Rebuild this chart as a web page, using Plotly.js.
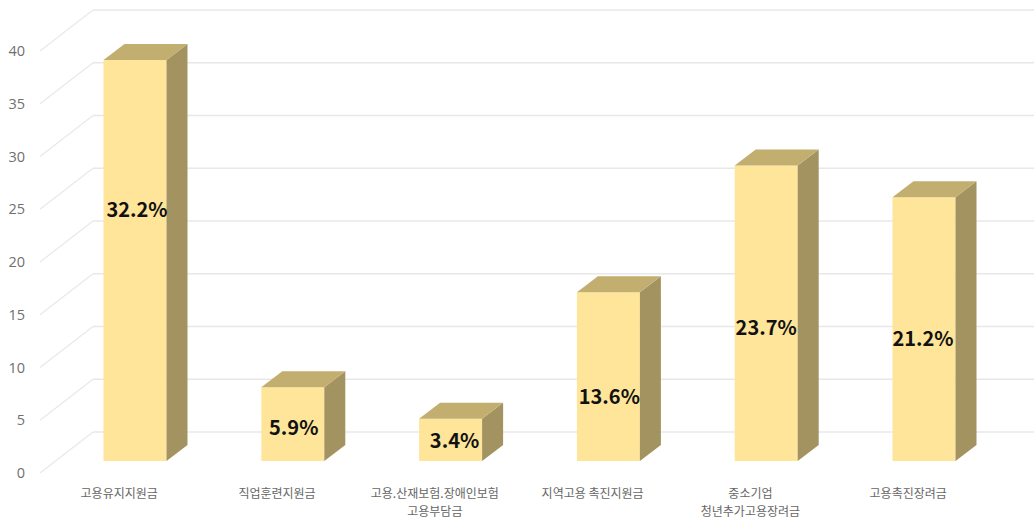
<!DOCTYPE html>
<html><head><meta charset="utf-8">
<script src="https://cdn.plot.ly/plotly-3.0.1.min.js"></script>
<style>html,body{margin:0;padding:0;background:#fff}#c{width:1034px;height:519px}</style>
</head><body><div id="c"></div>
<script>
// Data
const categoriesLine1 = ['고용유지지원금','직업훈련지원금','고용.산재보험.장애인보험','지역고용 촉진지원금','중소기업','고용촉진장려금'];
const categoriesLine2 = ['','','고용부담금','','청년추가고용장려금',''];
const values = [38, 7, 4, 16, 28, 25];
const shareLabels = ['32.2%','5.9%','3.4%','13.6%','23.7%','21.2%'];
const labelHeights = [23.58, 2.91, 1.68, 5.85, 12.38, 11.34];
const labelNudges = [0.013, 0.006, 0.025, 0.006, 0, -0.006];
const yTicks = [0,5,10,15,20,25,30,35,40];

// Scale
const W=1034,H=519,L=30,B=44,plotH=H-B;
const pxX=157.8,pxV=10.55,cx0=135;
const idx=categoriesLine1.map((_,i)=>i);
const tickIdx=idx.map(i=>i-0.1);
const xRange=[(L-cx0)/pxX,(W-cx0)/pxX];
const wallZero=473, barZero=461;
const wallRange=[(wallZero-plotH)/pxV,wallZero/pxV];
const barRange=[(barZero-plotH)/pxV,barZero/pxV];
const barW=63/pxX, dX=21/pxX, dV=16/pxV;
const wallStart=(40-cx0)/pxX, wallDX=53/pxX, wallDV=41/pxV;

const traces=[];
// wall grid: diagonal + back line for every tick
yTicks.forEach(v=>{
  traces.push({type:'scatter',mode:'lines',x:[wallStart,wallStart+wallDX],y:[v,v+wallDV],
    line:{color:'#e9e9e9',width:1.2},hoverinfo:'skip',showlegend:false,xaxis:'x',yaxis:'y'});
  traces.push({type:'scatter',mode:'lines',x:[wallStart+wallDX,xRange[1]],y:[v+wallDV,v+wallDV],
    line:{color:'#e8e8e8',width:1.5},hoverinfo:'skip',showlegend:false,xaxis:'x',yaxis:'y'});
});
// front faces
traces.push({type:'bar',x:idx,y:values,width:barW,marker:{color:'#FEE599',line:{width:0}},
  showlegend:false,xaxis:'x2',yaxis:'y2',hoverinfo:'y'});
// side and top faces
idx.forEach(i=>{
  const r=i+barW/2,l=i-barW/2,v=values[i];
  traces.push({type:'scatter',mode:'lines',fill:'toself',fillcolor:'#A39360',line:{width:0,color:'#A39360'},
    x:[r,r+dX,r+dX,r,r],y:[0,dV,v+dV,v,0],hoverinfo:'skip',showlegend:false,xaxis:'x2',yaxis:'y2'});
  traces.push({type:'scatter',mode:'lines',fill:'toself',fillcolor:'#C2AE6F',line:{width:0,color:'#C2AE6F'},
    x:[l,r,r+dX,l+dX,l],y:[v,v,v+dV,v+dV,v],hoverinfo:'skip',showlegend:false,xaxis:'x2',yaxis:'y2'});
});
// share labels
traces.push({type:'scatter',mode:'text',x:idx.map((i)=>i+labelNudges[i]),y:labelHeights,text:shareLabels,
  textposition:'middle center',textfont:{family:'"Noto Sans CJK KR","Noto Sans",sans-serif',size:20,color:'#111111',weight:700},
  hoverinfo:'skip',showlegend:false,xaxis:'x2',yaxis:'y2',cliponaxis:false});

const layout={
  width:W,height:H,margin:{l:L,r:0,t:0,b:B},paper_bgcolor:'#fff',plot_bgcolor:'rgba(0,0,0,0)',showlegend:false,
  xaxis:{range:xRange,tickmode:'array',tickvals:tickIdx,ticktext:categoriesLine2,showgrid:false,zeroline:false,showline:false,
    ticks:'outside',ticklen:26,tickcolor:'rgba(0,0,0,0)',tickangle:0,
    tickfont:{family:'"Noto Sans CJK KR",sans-serif',size:12,color:'#666666'}},
  yaxis:{range:wallRange,tickmode:'array',tickvals:yTicks,ticktext:yTicks.map(String),showgrid:false,zeroline:false,showline:false,
    ticks:'outside',ticklen:1,tickcolor:'rgba(0,0,0,0)',
    tickfont:{family:'"Open Sans",sans-serif',size:14.5,color:'#707070'}},
  xaxis2:{range:xRange,overlaying:'x',anchor:'y2',side:'bottom',tickmode:'array',tickvals:tickIdx,ticktext:categoriesLine1,showgrid:false,zeroline:false,showline:false,
    ticks:'outside',ticklen:8,tickcolor:'rgba(0,0,0,0)',tickangle:0,
    tickfont:{family:'"Noto Sans CJK KR",sans-serif',size:12,color:'#666666'}},
  yaxis2:{range:barRange,overlaying:'y',anchor:'x2',side:'left',showgrid:false,zeroline:false,showline:false,showticklabels:false,ticks:''}
};
Plotly.newPlot('c',traces,layout,{displayModeBar:false,responsive:false});
</script></body></html>
